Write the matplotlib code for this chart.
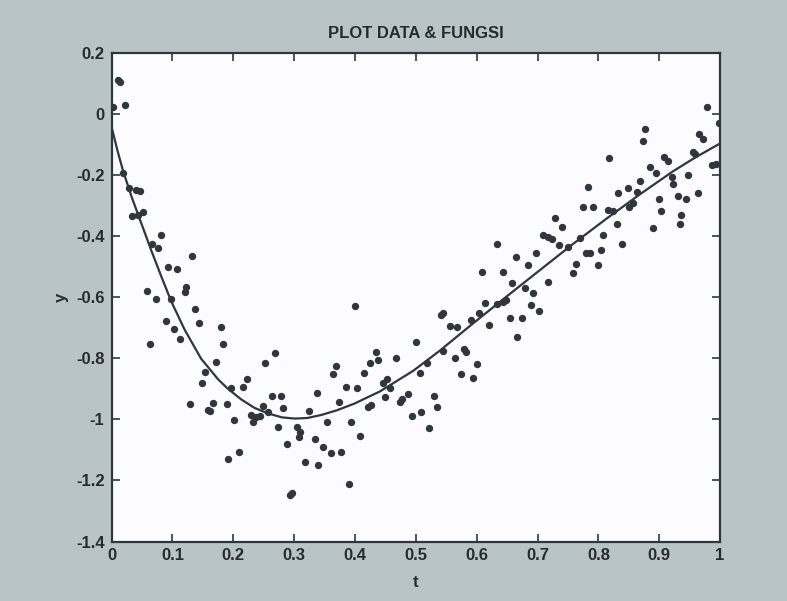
import matplotlib.pyplot as plt

# data points (t, y)
t_data = [0.010, 0.014, 0.003, 0.022, 0.019, 0.029, 0.040, 0.047, 0.033, 0.044,
          0.052, 0.081, 0.066, 0.077, 0.133, 0.092, 0.107, 0.123, 0.120, 0.058,
          0.073, 0.098, 0.137, 0.089, 0.143, 0.103, 0.112, 0.180, 0.063, 0.184,
          0.172, 0.154, 0.149, 0.196,
          0.268, 0.252, 0.222, 0.216, 0.129, 0.167, 0.159, 0.162, 0.189, 0.264,
          0.278, 0.282, 0.249, 0.229, 0.238, 0.244, 0.232, 0.257, 0.202, 0.325,
          0.337, 0.273, 0.304, 0.310, 0.308, 0.334, 0.288, 0.318, 0.340, 0.209,
          0.192, 0.297, 0.294,
          0.400, 0.545, 0.542, 0.556, 0.567, 0.590, 0.604, 0.613, 0.633, 0.643,
          0.620, 0.654, 0.666, 0.500, 0.580, 0.583, 0.544, 0.564, 0.600, 0.574,
          0.594, 0.518, 0.434, 0.424, 0.438, 0.467, 0.369, 0.364, 0.415, 0.507,
          0.385, 0.403, 0.446, 0.452, 0.457, 0.449, 0.374, 0.422, 0.427, 0.474,
          0.478, 0.487, 0.530, 0.534, 0.508, 0.493, 0.522, 0.354, 0.393, 0.408,
          0.348, 0.360, 0.377, 0.390,
          0.783, 0.774, 0.791, 0.728, 0.740, 0.709, 0.717, 0.724, 0.736, 0.750,
          0.769, 0.780, 0.787, 0.634, 0.698, 0.664, 0.684, 0.764, 0.758, 0.609,
          0.643, 0.718, 0.658, 0.679, 0.693, 0.649, 0.690, 0.702, 0.674,
          0.979, 0.877, 0.873, 0.966, 0.972, 0.955, 0.958, 0.986, 0.994, 0.817,
          0.908, 0.914, 0.884, 0.894, 0.948, 0.921, 0.923, 0.868, 0.849, 0.833,
          0.864, 0.964, 0.930, 0.944, 0.899, 0.857, 0.851, 0.903, 0.936, 0.815,
          0.824, 0.830, 0.934, 0.890, 0.808, 0.804, 0.839, 0.799, 0.998]
y_data = [0.113, 0.105, 0.026, 0.031, -0.193, -0.242, -0.246, -0.250, -0.333, -0.330,
          -0.320, -0.395, -0.425, -0.439, -0.463, -0.499, -0.508, -0.565, -0.581, -0.578,
          -0.606, -0.606, -0.639, -0.676, -0.683, -0.704, -0.737, -0.696, -0.752, -0.753,
          -0.810, -0.843, -0.879, -0.898,
          -0.781, -0.814, -0.866, -0.892, -0.950, -0.947, -0.969, -0.972, -0.950, -0.922,
          -0.923, -0.963, -0.956, -0.985, -0.991, -0.989, -1.007, -0.975, -1.002, -0.972,
          -0.912, -1.025, -1.026, -1.040, -1.056, -1.064, -1.080, -1.138, -1.150, -1.108,
          -1.130, -1.240, -1.248,
          -0.627, -0.650, -0.657, -0.693, -0.698, -0.674, -0.650, -0.619, -0.621, -0.614,
          -0.690, -0.668, -0.730, -0.745, -0.770, -0.778, -0.774, -0.799, -0.818, -0.851,
          -0.865, -0.814, -0.778, -0.816, -0.805, -0.799, -0.825, -0.851, -0.847, -0.849,
          -0.894, -0.898, -0.879, -0.868, -0.898, -0.927, -0.943, -0.958, -0.953, -0.942,
          -0.934, -0.917, -0.922, -0.960, -0.974, -0.987, -1.029, -1.007, -1.007, -1.054,
          -1.089, -1.109, -1.106, -1.211,
          -0.237, -0.302, -0.302, -0.338, -0.368, -0.395, -0.403, -0.409, -0.428, -0.433,
          -0.406, -0.453, -0.455, -0.425, -0.453, -0.466, -0.493, -0.490, -0.521, -0.515,
          -0.515, -0.548, -0.551, -0.570, -0.586, -0.608, -0.624, -0.643, -0.668,
          0.026, -0.049, -0.086, -0.064, -0.081, -0.122, -0.129, -0.166, -0.162, -0.144,
          -0.138, -0.151, -0.171, -0.191, -0.198, -0.206, -0.228, -0.217, -0.242, -0.258,
          -0.253, -0.258, -0.267, -0.278, -0.278, -0.291, -0.302, -0.315, -0.330, -0.313,
          -0.315, -0.359, -0.359, -0.371, -0.395, -0.444, -0.425, -0.493, -0.028]

# fitted curve
t_fit = [0.0, 0.01, 0.019, 0.033, 0.049, 0.065, 0.082, 0.098, 0.12, 0.147, 0.175, 0.19,
         0.213, 0.235, 0.257, 0.28, 0.301, 0.322, 0.345, 0.37, 0.399, 0.441, 0.496,
         0.539, 0.594, 0.649, 0.704, 0.758, 0.813, 0.868, 0.922, 0.96, 1.0]
y_fit = [-0.04, -0.12, -0.185, -0.27, -0.357, -0.444, -0.532, -0.612, -0.705, -0.800,
         -0.868, -0.897, -0.934, -0.962, -0.980, -0.993, -0.997, -0.995, -0.985, -0.970,
         -0.948, -0.908, -0.840, -0.775, -0.685, -0.597, -0.510, -0.425, -0.342, -0.262,
         -0.187, -0.14, -0.095]

xticks = [0, 0.1, 0.2, 0.3, 0.4, 0.5, 0.6, 0.7, 0.8, 0.9, 1]
xtick_labels = ['0', '0.1', '0.2', '0.3', '0.4', '0.5', '0.6', '0.7', '0.8', '0.9', '1']
yticks = [0.2, 0, -0.2, -0.4, -0.6, -0.8, -1, -1.2, -1.4]
ytick_labels = ['0.2', '0', '-0.2', '-0.4', '-0.6', '-0.8', '-1', '-1.2', '-1.4']

fonts = ['Liberation Sans', 'DejaVu Sans']
ink = '#30373c'
txt = '#262b2f'

fig = plt.figure(figsize=(7.87, 6.01), dpi=100, facecolor='#b9c4c7')
ax = fig.add_axes([0.1417, 0.099, 0.7733, 0.812])
ax.set_facecolor('#fcfbfd')

ax.plot(t_data, y_data, 'o', color=ink, markersize=5.3, markeredgewidth=0)
ax.plot(t_fit, y_fit, '-', color=ink, linewidth=1.6)

ax.set_xlim(0, 1)
ax.set_ylim(-1.4, 0.2)
ax.set_xticks(xticks)
ax.set_xticklabels(xtick_labels)
ax.set_yticks(yticks)
ax.set_yticklabels(ytick_labels)

ax.tick_params(direction='in', length=6, width=1.2, color=ink, top=True, right=True,
               labelsize=12, labelcolor=txt, pad=5)
for lab in ax.get_xticklabels() + ax.get_yticklabels():
    lab.set_family(fonts)
    lab.set_fontweight('bold')
for s in ax.spines.values():
    s.set_color(ink)
    s.set_linewidth(1.6)

ax.set_title('PLOT DATA & FUNGSI', family=fonts, fontsize=12, fontweight='bold',
             color=txt, pad=11)
ax.set_xlabel('t', family=fonts, fontsize=12, fontweight='bold', color=txt, labelpad=8)
ax.set_ylabel('y', family=fonts, fontsize=12, fontweight='bold', color=txt, labelpad=5)

fig.savefig('out.png', dpi=100, facecolor=fig.get_facecolor())
